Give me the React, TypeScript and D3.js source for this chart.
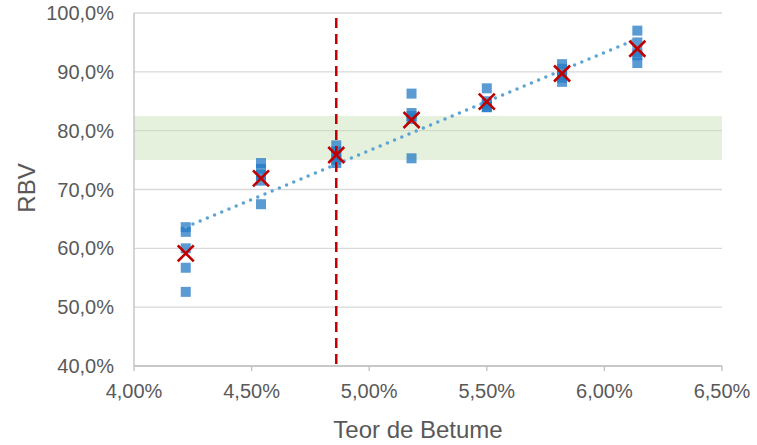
import React from "react";
import * as d3 from "d3";

const groupX = [4.22, 4.54, 4.86, 5.18, 5.5, 5.82, 6.14];
const groupValues = [
  [63.6, 62.8, 60.0, 56.7, 52.6],
  [74.5, 73.5, 72.5, 71.5, 67.5],
  [77.5, 76.5, 75.8, 75.0, 74.5],
  [86.3, 83.0, 82.5, 82.0, 75.3],
  [87.2, 85.0, 84.5, 84.0, 84.0],
  [91.3, 90.5, 89.5, 89.0, 88.3],
  [97.0, 95.0, 93.3, 92.8, 91.5],
];
const xTicks = [4.0, 4.5, 5.0, 5.5, 6.0, 6.5];
const yTicks = [40, 50, 60, 70, 80, 90, 100];
const bandRange = [75, 82.5];
const refLineX = 4.86;
const xTitle = "Teor de Betume";
const yTitle = "RBV";

const W = 757;
const H = 445;
const left = 134;
const right = 722;
const top = 13;
const bottom = 366;

export default function App() {
  const x = d3.scaleLinear().domain([4.0, 6.5]).range([left, right]);
  const y = d3.scaleLinear().domain([40, 100]).range([bottom, top]);
  const means = groupValues.map((v) => d3.mean(v) as number);
  const mx = d3.mean(groupX) as number;
  const my = d3.mean(means) as number;
  let sxy = 0,
    sxx = 0;
  groupX.forEach((gx, i) => {
    sxy += (gx - mx) * (means[i] - my);
    sxx += (gx - mx) * (gx - mx);
  });
  const slope = sxy / sxx;
  const icpt = my - slope * mx;
  const x0 = groupX[0];
  const x1 = groupX[groupX.length - 1];
  const fmtX = (v: number) => v.toFixed(2).replace(".", ",") + "%";
  const fmtY = (v: number) => v.toFixed(1).replace(".", ",") + "%";
  const sq = 10;
  const xs = 8;
  const font = "'Liberation Sans', Arial, sans-serif";
  return (
    <svg width={W} height={H} style={{ position: "absolute", left: 0, top: 0 }}>
      <rect width={W} height={H} fill="#fff" />
      {yTicks.map((t) => (
        <line key={t} x1={left} x2={right} y1={y(t)} y2={y(t)} stroke="#D9D9D9" strokeWidth={1.3} />
      ))}
      <rect
        x={left}
        width={right - left}
        y={y(bandRange[1])}
        height={y(bandRange[0]) - y(bandRange[1])}
        fill="#C5E0B4"
        fillOpacity={0.45}
      />
      <line x1={left} x2={left} y1={top} y2={bottom} stroke="#BFBFBF" strokeWidth={1.3} />
      <line x1={left} x2={right} y1={bottom} y2={bottom} stroke="#BFBFBF" strokeWidth={1.3} />
      {xTicks.map((t) => (
        <line key={t} x1={x(t)} x2={x(t)} y1={bottom} y2={bottom + 5} stroke="#BFBFBF" strokeWidth={1.3} />
      ))}
      {groupX.map((gx, i) =>
        groupValues[i].map((v, j) => (
          <rect
            key={i + "-" + j}
            x={x(gx) - sq / 2}
            y={y(v) - sq / 2}
            width={sq}
            height={sq}
            fill="#2479C6"
            fillOpacity={0.75}
          />
        ))
      )}
      <line
        x1={x(x0)}
        y1={y(icpt + slope * x0)}
        x2={x(x1)}
        y2={y(icpt + slope * x1)}
        stroke="#5BA3D5"
        strokeWidth={3.5}
        strokeLinecap="round"
        strokeDasharray="0 7.8"
      />
      <line
        x1={x(refLineX)}
        x2={x(refLineX)}
        y1={top + 5}
        y2={bottom}
        stroke="#C00000"
        strokeWidth={2.5}
        strokeDasharray="10 6"
      />
      {groupX.map((gx, i) => {
        const cx = x(gx);
        const cy = y(means[i]);
        return (
          <g key={"m" + i} stroke="#C00000" strokeWidth={2.6}>
            <line x1={cx - xs} y1={cy - xs} x2={cx + xs} y2={cy + xs} />
            <line x1={cx - xs} y1={cy + xs} x2={cx + xs} y2={cy - xs} />
          </g>
        );
      })}
      {yTicks.map((t) => (
        <text
          key={t}
          x={114}
          y={y(t)}
          dy="0.35em"
          textAnchor="end"
          fontSize={20}
          fill="#595959"
          fontFamily={font}
        >
          {fmtY(t)}
        </text>
      ))}
      {xTicks.map((t) => (
        <text
          key={t}
          x={x(t)}
          y={398}
          textAnchor="middle"
          fontSize={20}
          fill="#595959"
          fontFamily={font}
        >
          {fmtX(t)}
        </text>
      ))}
      <text x={418} y={438} textAnchor="middle" fontSize={24} fill="#595959" fontFamily={font}>
        {xTitle}
      </text>
      <text
        transform={`translate(35, 188) rotate(-90)`}
        textAnchor="middle"
        fontSize={24}
        fill="#595959"
        fontFamily={font}
      >
        {yTitle}
      </text>
    </svg>
  );
}
